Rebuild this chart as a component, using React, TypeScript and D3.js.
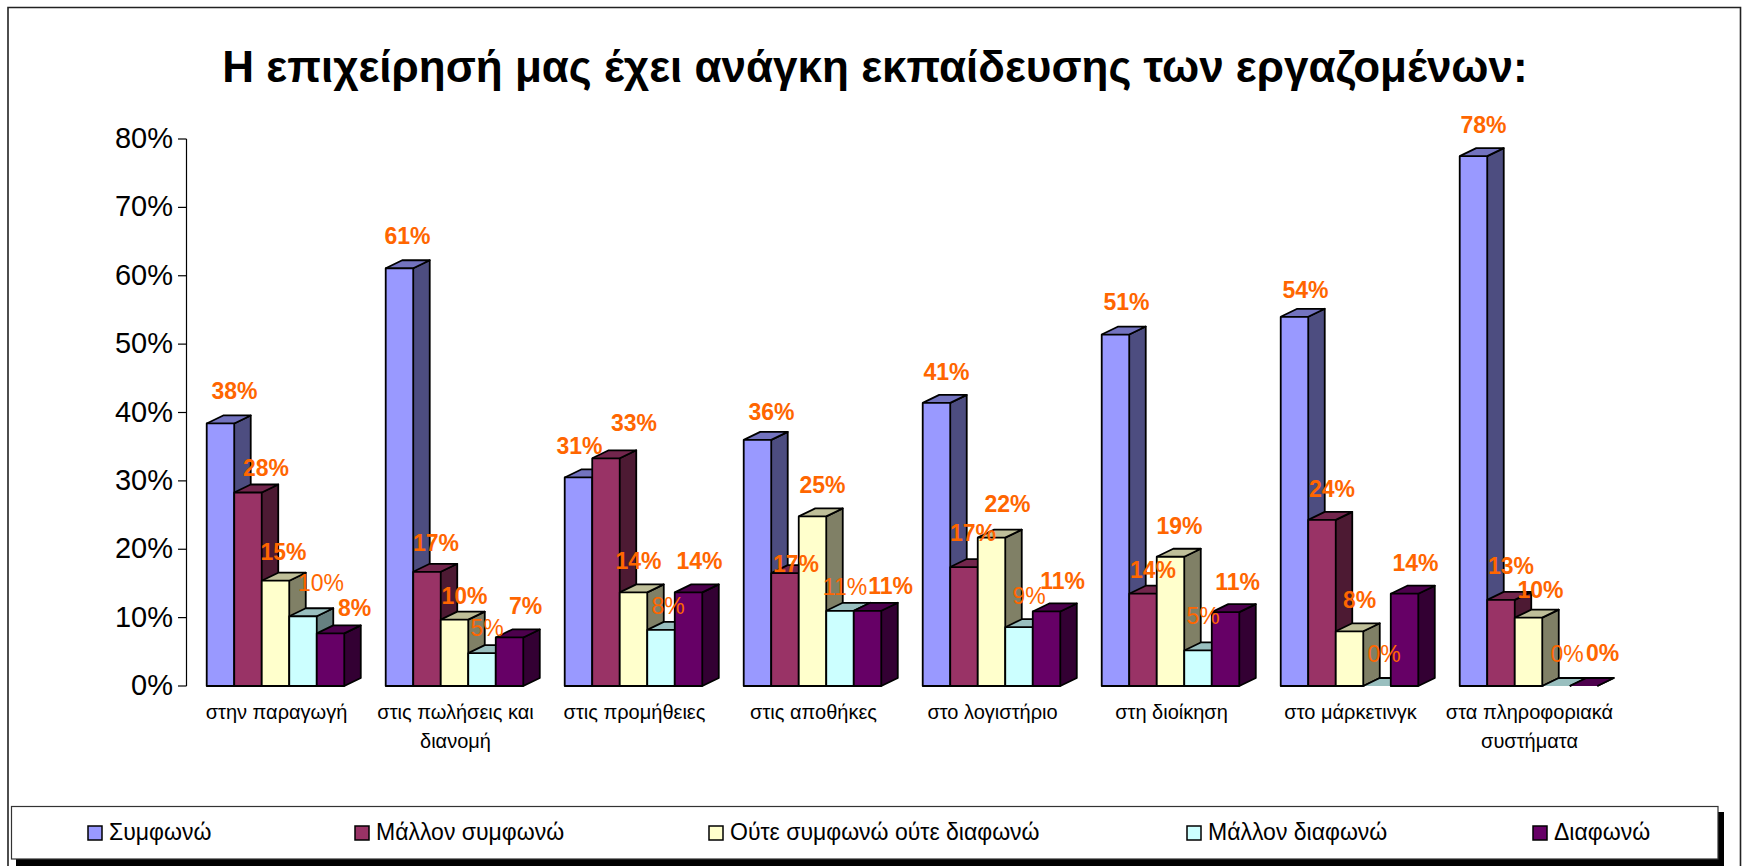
import React from 'react';
import * as d3 from 'd3';

const title = 'Η επιχείρησή μας έχει ανάγκη εκπαίδευσης των εργαζομένων:';
const categories = [
  ['στην παραγωγή'],
  ['στις πωλήσεις και', 'διανομή'],
  ['στις προμήθειες'],
  ['στις αποθήκες'],
  ['στο λογιστήριο'],
  ['στη διοίκηση'],
  ['στο μάρκετινγκ'],
  ['στα πληροφοριακά', 'συστήματα'],
];
const seriesNames = ['Συμφωνώ', 'Μάλλον συμφωνώ', 'Ούτε συμφωνώ ούτε διαφωνώ', 'Μάλλον διαφωνώ', 'Διαφωνώ'];
const agree = [38.4, 61.1, 30.5, 36, 41.4, 51.4, 54, 77.5];
const ratherAgree = [28.3, 16.7, 33.3, 16.5, 17.4, 13.5, 24.3, 12.6];
const neither = [15.4, 9.7, 13.7, 24.8, 21.7, 18.9, 8, 10];
const ratherDisagree = [10.2, 4.8, 8.2, 11, 8.6, 5.2, 0, 0];
const disagree = [7.7, 7.1, 13.7, 11, 10.9, 10.8, 13.5, 0];
const seriesValues = [agree, ratherAgree, neither, ratherDisagree, disagree];
const seriesColors = ['#9999ff', '#993366', '#ffffcc', '#ccffff', '#660066'];
const yTicks = [0, 10, 20, 30, 40, 50, 60, 70, 80];

const FONT = '"Liberation Sans", Arial, sans-serif';
const DX = 16.5; // 3d depth
const DY = 8;

// hand placed data labels, excel moved these around: [dx, dy] per category, per series
const labelNudge = [
  [[4, -2], [8, 6], [-2, 1], [8, -3], [14, 5]],
  [[-2, -2], [-1, 1], [0, 6], [-5, 5], [6, -1]],
  [[-9, -1], [18, -5], [-5, -1], [-3, 6], [1, -1]],
  [[4, 2], [1, 21], [0, -1], [-5, 6], [13, 5]],
  [[0, -1], [-1, -4], [6, -4], [0, -1], [6, 0]],
  [[1, -3], [0, 6], [-1, -1], [-5, -4], [2, 0]],
  [[1, 3], [0, -1], [0, -1], [-3, -2], [1, -1]],
  [[0, -1], [0, -4], [2, 2], [1, -2], [9, -3]],
];

const y = d3.scaleLinear().domain([0, 80]).range([686, 139]);
const xGroup = d3.scaleBand<number>().domain(d3.range(8)).range([186, 1618]).paddingInner(0.2315).paddingOuter(0.1157);
const xBar = d3.scaleBand<number>().domain(d3.range(5)).range([0, xGroup.bandwidth()]);
const line = d3.line();
const legendX = [88, 355, 709, 1187, 1533];

function Bar({x, w, top, color}: {x: number; w: number; top: number; color: string}) {
  const base = y(0);
  const side = d3.interpolateRgb(color, '#000')(0.5);
  const cap = d3.interpolateRgb(color, '#000')(0.25);
  return (
    <g stroke="#000" strokeWidth={1.8} strokeLinejoin="round">
      <path fill={side} d={line([[x + w, top], [x + w + DX, top - DY], [x + w + DX, base - DY], [x + w, base]])!} />
      <path fill={cap} d={line([[x, top], [x + DX, top - DY], [x + w + DX, top - DY], [x + w, top]])!} />
      <rect x={x} y={top} width={w} height={base - top} fill={color} />
    </g>
  );
}

export default function App() {
  return (
    <svg width={1743} height={866} style={{position: 'absolute', left: 0, top: 0}} fontFamily={FONT}>
      <rect x={0} y={0} width={1743} height={866} fill="#fff" />
      <path d="M8 866V7.5H1740.5V866" fill="none" stroke="#222" strokeWidth={1.6} />

      <text x={875} y={82} textAnchor="middle" fontSize={44} fontWeight="bold">{title}</text>

      <line x1={186.5} x2={186.5} y1={y(80)} y2={y(0)} stroke="#000" strokeWidth={1.2} />
      {yTicks.map(t => (
        <g key={t}>
          <line x1={178} x2={186.5} y1={y(t)} y2={y(t)} stroke="#000" strokeWidth={1.2} />
          <text x={173} y={y(t) + 9} textAnchor="end" fontSize={29}>{t}%</text>
        </g>
      ))}

      {categories.map((_, c) => (
        <g key={c} transform={`translate(${xGroup(c)},0)`}>
          {seriesValues.map((vals, s) => (
            <Bar key={s} x={xBar(s)!} w={xBar.bandwidth()} top={y(vals[c])} color={seriesColors[s]} />
          ))}
        </g>
      ))}

      {categories.map((_, c) => seriesValues.map((vals, s) => (
        <text key={`${c}-${s}`}
          x={xGroup(c)! + xBar(s)! + xBar.bandwidth() / 2 + 10 + labelNudge[c][s][0]}
          y={y(vals[c]) - 22 + labelNudge[c][s][1]}
          textAnchor="middle" fontSize={23} fill="#ff6600"
          fontWeight={s === 3 ? 'normal' : 'bold'}>
          {d3.format('.0f')(vals[c])}%
        </text>
      )))}

      {categories.map((lines, c) => lines.map((l, i) => (
        <text key={l} x={xGroup(c)! + xGroup.bandwidth() / 2 + 1} y={719 + i * 29} textAnchor="middle" fontSize={20}>{l}</text>
      )))}

      <rect x={16} y={812} width={1708} height={54} fill="#000" />
      <rect x={11.5} y={806.5} width={1706.5} height={52.5} fill="#fff" stroke="#333" strokeWidth={1.2} />
      {seriesNames.map((n, s) => (
        <g key={n}>
          <rect x={legendX[s]} y={826} width={14} height={14} fill={seriesColors[s]} stroke="#000" strokeWidth={1.5} />
          <text x={legendX[s] + 21} y={840} fontSize={23}>{n}</text>
        </g>
      ))}
    </svg>
  );
}
